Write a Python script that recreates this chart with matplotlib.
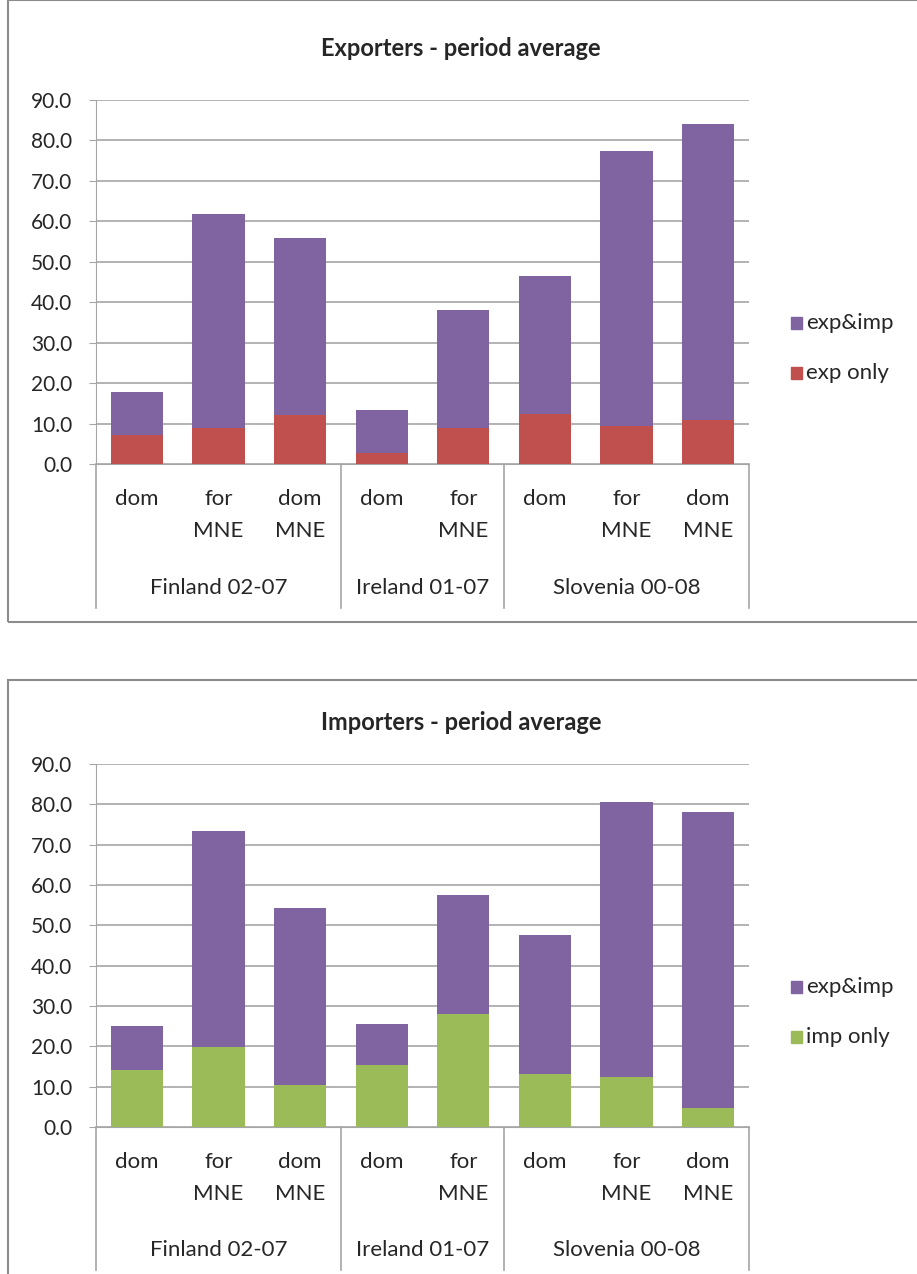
import matplotlib.pyplot as plt
from matplotlib.patches import Rectangle
import matplotlib.transforms as mtransforms

plt.rcParams["font.family"] = ["Lato", "DejaVu Sans"]

sub_labels = ["dom", "for\nMNE", "dom\nMNE", "dom", "for\nMNE", "dom", "for\nMNE", "dom\nMNE"]
groups = ["Finland 02-07", "Ireland 01-07", "Slovenia 00-08"]
group_sizes = [3, 2, 3]

# exporters panel
exp_only = [7.2, 8.8, 12.1, 2.8, 8.8, 12.3, 9.3, 10.9]
exp_total = [17.9, 61.9, 56.0, 13.4, 38.0, 46.4, 77.3, 84.0]

# importers panel
imp_only = [14.2, 19.9, 10.4, 15.3, 28.1, 13.1, 12.5, 4.7]
imp_total = [25.0, 73.3, 54.3, 25.6, 57.4, 47.6, 80.7, 78.2]

yticks = [0, 10, 20, 30, 40, 50, 60, 70, 80, 90]

PURPLE = "#8064A2"
RED = "#C0504D"
GREEN = "#9BBB59"
GRID = "#A6A6A6"
TXT = "#262626"

W, H = 917, 1274
fig = plt.figure(figsize=(W / 100, H / 100), dpi=100)


def px_box(x0, y0, x1, y1):
    # pixel rectangle (top-left origin) -> figure fraction [l, b, w, h]
    return [x0 / W, 1 - y1 / H, (x1 - x0) / W, (y1 - y0) / H]


def draw_panel(rect, title, base, total, base_label, base_color, title_y, leg_y):
    ax = fig.add_axes(rect)
    x = list(range(len(base)))
    both = [t - b for t, b in zip(total, base)]
    ax.bar(x, base, width=0.64, color=base_color, zorder=3)
    ax.bar(x, both, bottom=base, width=0.64, color=PURPLE, zorder=3)

    ax.set_xlim(-0.5, len(base) - 0.5)
    ax.set_ylim(0, 90)
    ax.set_yticks(yticks)
    ax.set_yticklabels([f"{v:.1f}" for v in yticks], fontsize=15, color=TXT)
    ax.yaxis.grid(True, color=GRID, linewidth=1.2, zorder=0)
    ax.set_xticks([])
    for s in ["top", "right"]:
        ax.spines[s].set_visible(False)
    ax.spines["left"].set_color(GRID)
    ax.spines["bottom"].set_color(GRID)
    ax.tick_params(axis="y", length=5, color=GRID, pad=12)

    trans = mtransforms.blended_transform_factory(ax.transData, ax.transAxes)
    for i, lab in enumerate(sub_labels):
        ax.text(i, -0.07, lab, transform=trans, ha="center", va="top",
                fontsize=16, color=TXT, linespacing=1.75)

    start = -0.5
    edges = [start]
    for g, n in zip(groups, group_sizes):
        ax.text(start + n / 2, -0.34, g, transform=trans, ha="center",
                va="center", fontsize=16, color=TXT)
        start += n
        edges.append(start)
    for e in edges:
        ax.plot([e, e], [0, -0.395], transform=trans, color=GRID,
                linewidth=1.2, clip_on=False)

    fig.text(461 / W, title_y, title, ha="center", va="center",
             fontsize=17, fontweight="bold", color=TXT)

    # legend drawn by hand, Excel style
    for j, (lab, col) in enumerate([("exp&imp", PURPLE), (base_label, base_color)]):
        yy = leg_y - j * 0.039
        fig.patches.append(Rectangle((791 / W, yy - 6 / H), 11 / W, 12 / H,
                                     transform=fig.transFigure, color=col))
        fig.text(806 / W, yy, lab, ha="left", va="center", fontsize=16, color=TXT)
    return ax


# outer chart borders
fig.patches.append(Rectangle((8 / W, 1 - 622 / H), 1.0, 622 / H,
                             transform=fig.transFigure, fill=False,
                             edgecolor="#8C8C8C", linewidth=1.5))
fig.patches.append(Rectangle((8 / W, -0.05), 1.0, 1 - 680 / H + 0.05,
                             transform=fig.transFigure, fill=False,
                             edgecolor="#8C8C8C", linewidth=1.5))

draw_panel(px_box(96, 100, 749, 464), "Exporters - period average",
           exp_only, exp_total, "exp only", RED, 1 - 48 / H, 1 - 323 / H)
draw_panel(px_box(96, 764, 749, 1127), "Importers - period average",
           imp_only, imp_total, "imp only", GREEN, 1 - 722 / H, 1 - 987 / H)

fig.savefig("out.png", dpi=100, facecolor="white")
